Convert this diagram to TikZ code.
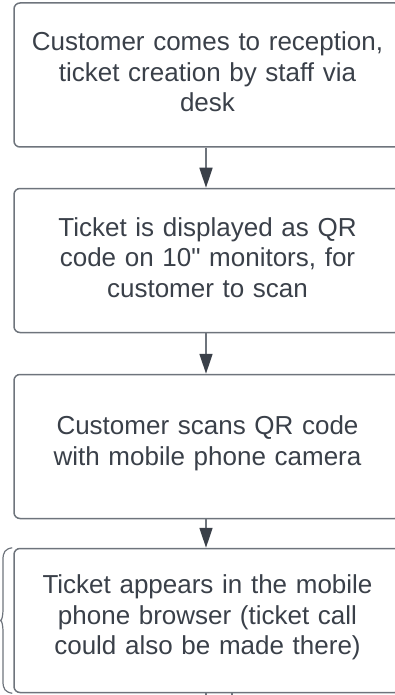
\documentclass[tikz,border=0pt]{standalone}
\usepackage{fontspec}
\setmainfont{Liberation Sans}[Ligatures=TeXOff]
\usetikzlibrary{arrows.meta}
\definecolor{bordergray}{HTML}{6E747C}
\definecolor{textdark}{HTML}{3A4049}
\tikzset{
  box/.style={draw=bordergray, line width=1.5pt, rounded corners=6pt,
    minimum width=387pt, minimum height=144pt, inner sep=0pt},
  label/.style={text width=380pt, align=center,
    text=textdark, font=\fontsize{26}{30.5}\selectfont, inner sep=0pt},
  arr/.style={draw=bordergray, line width=1.5pt,
    -{Triangle[width=13pt,length=20pt,fill=textdark,color=textdark]}},
  thin/.style={draw=bordergray, line width=1.2pt}
}
\begin{document}
\begin{tikzpicture}[x=1pt,y=-1pt]
\useasboundingbox (0,0) rectangle (395,695);
\clip (0,0) rectangle (395,695);
\node[box] (b1) at (207.5,75) {};
\node[box] (b2) at (207.5,260.5) {};
\node[box] (b3) at (207.5,446.5) {};
\node[box] (b4) at (207.5,620.5) {};
\node[label] (t1) at ([yshift=3pt]b1.center) {Customer comes to reception,\\ticket creation by staff via\\desk};
\node[label] (t2) at ([yshift=3pt]b2.center) {Ticket is displayed as QR\\code on 10" monitors, for\\customer to scan};
\node[label] (t3) at ([yshift=3pt]b3.center) {Customer scans QR code\\with mobile phone camera};
\node[label] (t4) at ([yshift=3pt]b4.center) {Ticket appears in the mobile\\phone browser (ticket call\\could also be made there)};
\draw[arr] ([xshift=-1.5pt]b1.south) -- ([xshift=-1.5pt]b2.north);
\draw[arr] ([xshift=-1.5pt]b2.south) -- ([xshift=-1.5pt]b3.north);
\draw[arr] ([xshift=-1.5pt]b3.south) -- ([xshift=-1.5pt]b4.north);
\draw[thin] ([xshift=-1.5pt]b4.south) -- ++(0,6);
\draw[thin] ([xshift=24.5pt]b4.south) -- ++(0,6);
\draw[thin] ([xshift=-1pt]b4.north west) .. controls (5,549) and (3,552) .. (3,560)
  -- (3,608) .. controls (3,616) and (2,620) .. (0.5,620.5)
  .. controls (2,621) and (3,625) .. (3,633)
  -- (3,681) .. controls (3,689) and (5,692) .. ([xshift=-1pt]b4.south west);
\end{tikzpicture}
\end{document}
